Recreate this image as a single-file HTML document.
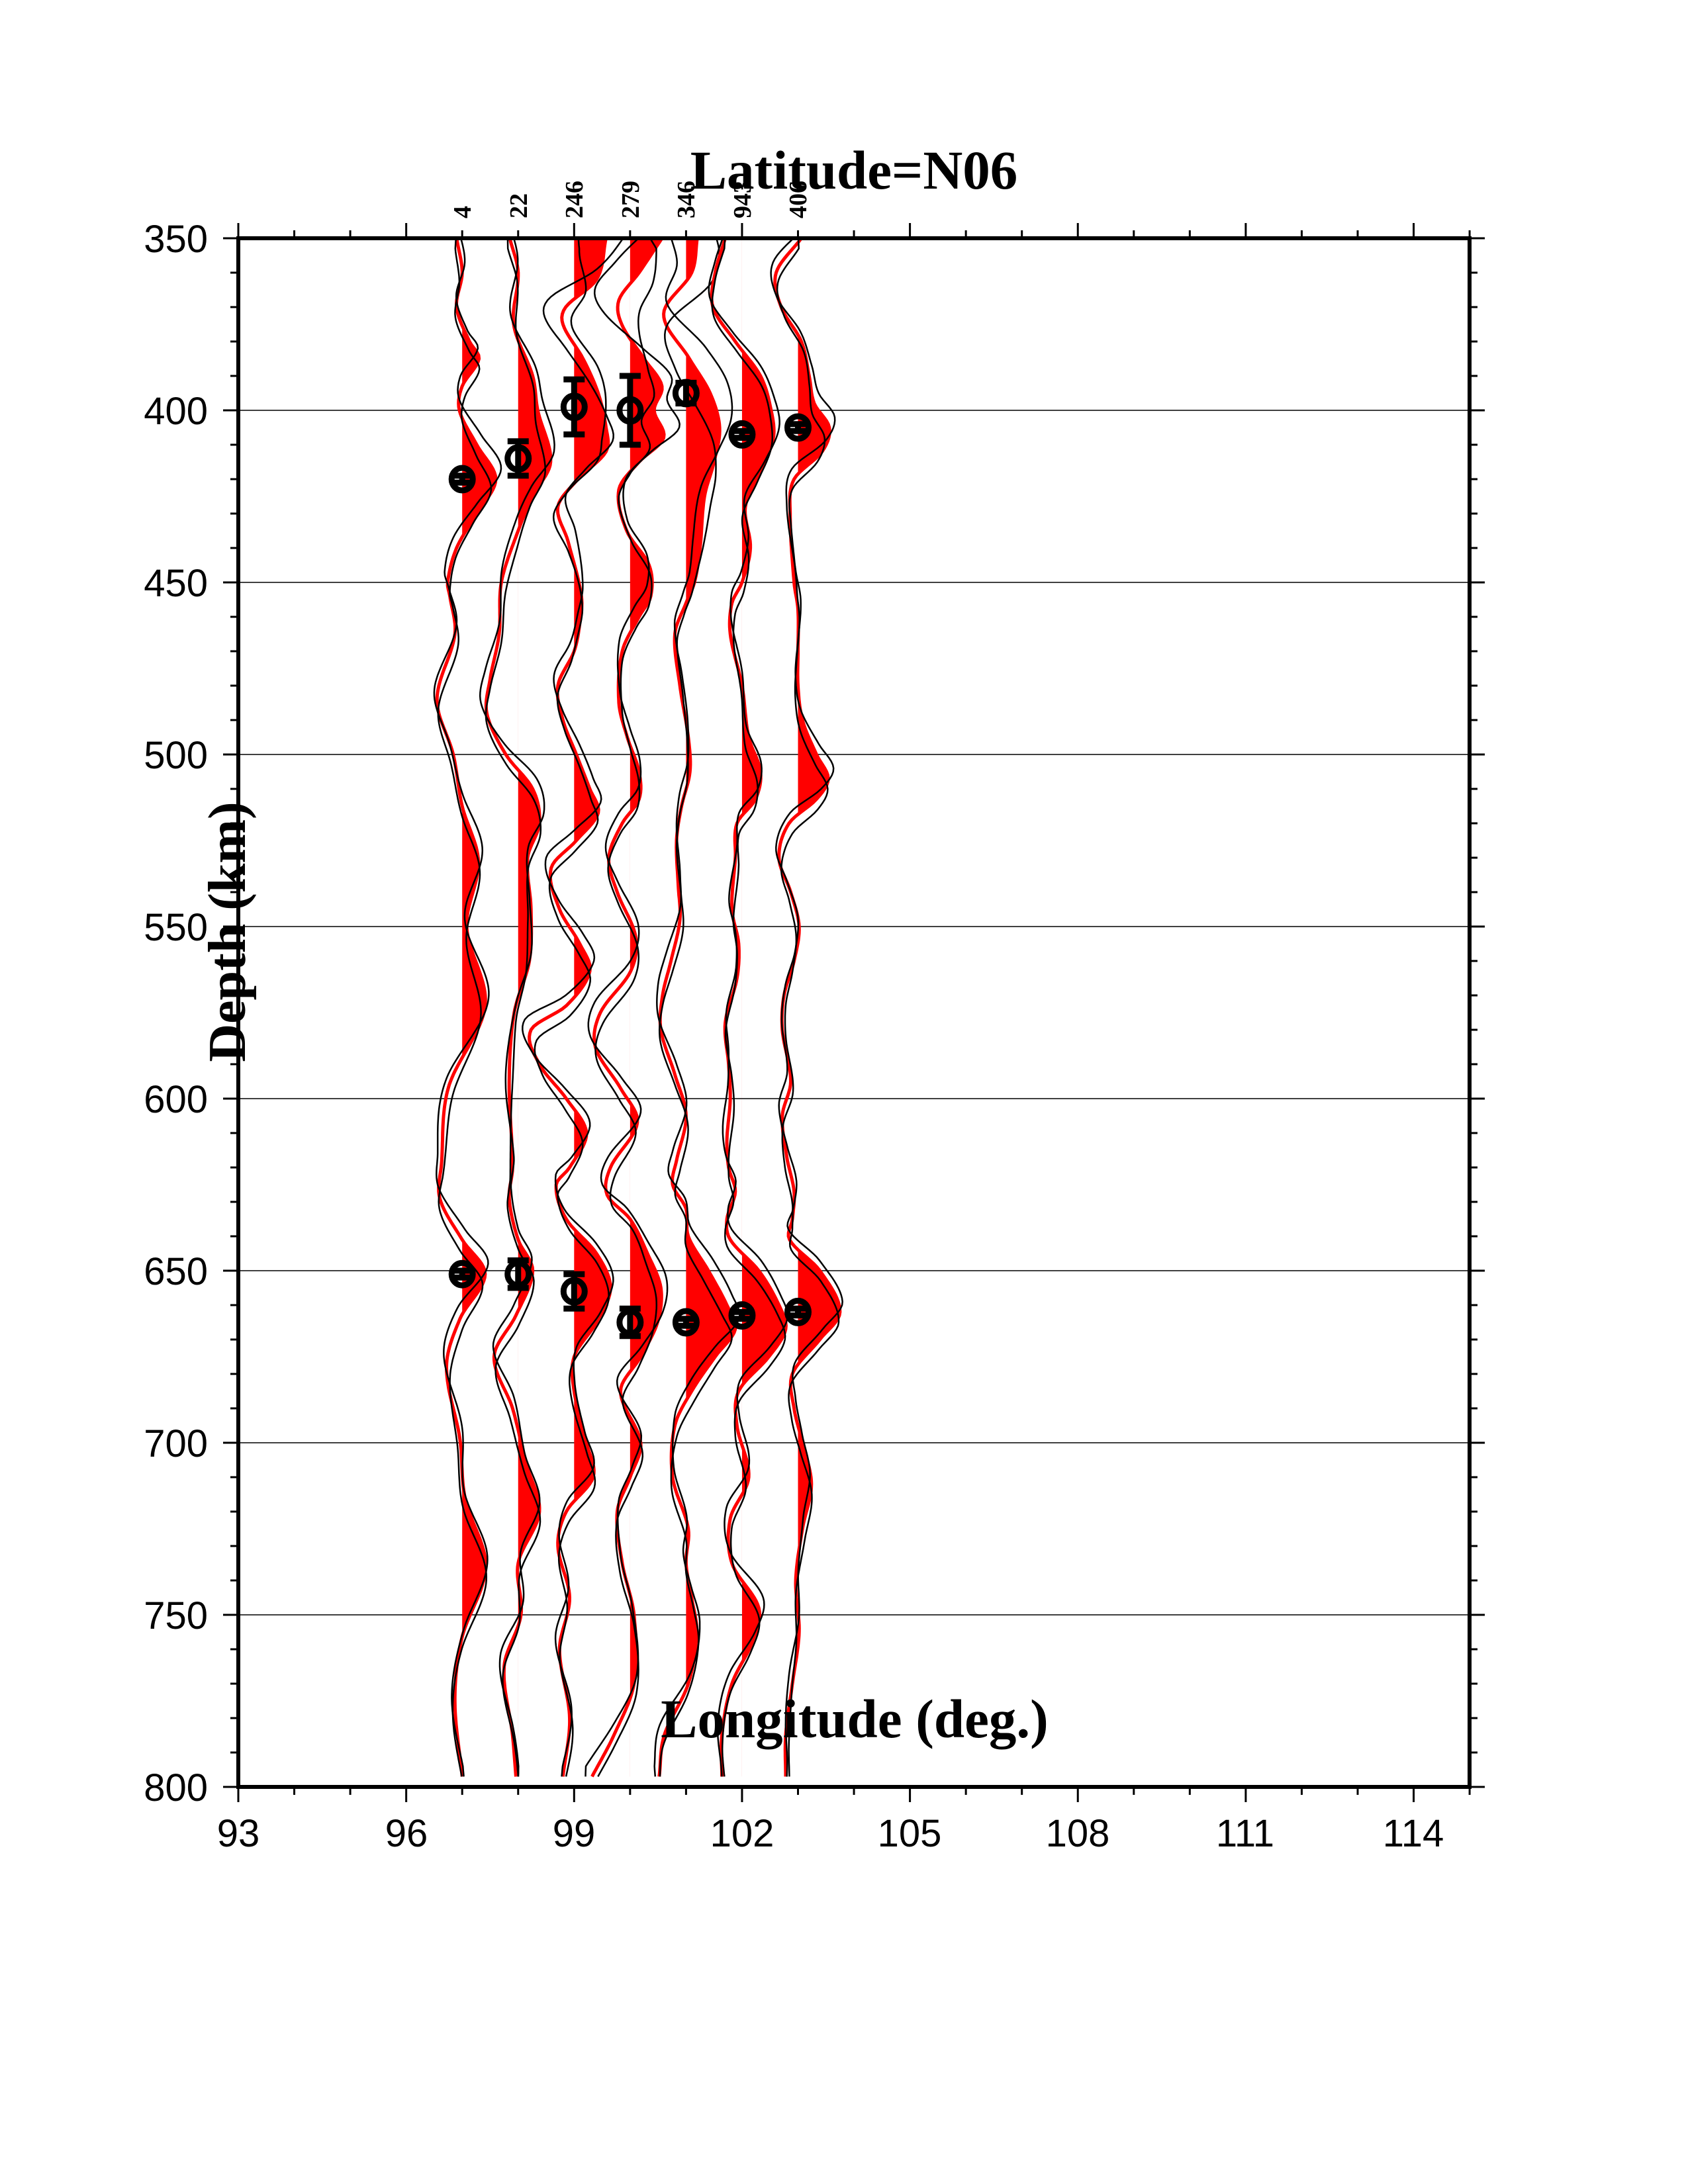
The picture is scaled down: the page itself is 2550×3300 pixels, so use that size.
<!DOCTYPE html>
<html><head><meta charset="utf-8"><style>
html,body{margin:0;padding:0;background:#fff;}
svg{display:block;}
</style></head><body>
<svg id="s" width="2550" height="3300" viewBox="0 0 2550 3300" xmlns="http://www.w3.org/2000/svg">
<rect width="2550" height="3300" fill="#fff"/>
<g id="grid"></g>
<g id="traces"></g>
<g id="marks"></g>
<g id="axes"></g>
<g font-family="Liberation Sans, sans-serif" font-size="58" text-anchor="end">
<text x="314" y="381">350</text><text x="314" y="641">400</text><text x="314" y="901">450</text>
<text x="314" y="1161">500</text><text x="314" y="1421">550</text><text x="314" y="1681">600</text>
<text x="314" y="1941">650</text><text x="314" y="2201">700</text><text x="314" y="2461">750</text>
<text x="314" y="2721">800</text>
</g>
<g font-family="Liberation Sans, sans-serif" font-size="58" text-anchor="middle">
<text x="360" y="2790">93</text><text x="614" y="2790">96</text><text x="867" y="2790">99</text>
<text x="1121" y="2790">102</text><text x="1374" y="2790">105</text><text x="1628" y="2790">108</text>
<text x="1881" y="2790">111</text><text x="2135" y="2790">114</text>
</g>
<g font-family="Liberation Serif, serif" font-weight="bold" font-size="38">
<text transform="translate(711,330) rotate(-90)">4</text>
<text transform="translate(796,330) rotate(-90)">22</text>
<text transform="translate(880,330) rotate(-90)">246</text>
<text transform="translate(965,330) rotate(-90)">279</text>
<text transform="translate(1049,330) rotate(-90)">346</text>
<text transform="translate(1134,330) rotate(-90)">943</text>
<text transform="translate(1218,330) rotate(-90)">406</text>
</g>
<text x="1290" y="285" font-family="Liberation Serif, serif" font-weight="bold" font-size="83" text-anchor="middle">Latitude=N06</text>
<text x="1291" y="2625" font-family="Liberation Serif, serif" font-weight="bold" font-size="83" text-anchor="middle">Longitude (deg.)</text>
<text transform="translate(370,1408) rotate(-90)" font-family="Liberation Serif, serif" font-weight="bold" font-size="80" text-anchor="middle">Depth (km)</text>
</svg>
<script>
(function(){
var NS="http://www.w3.org/2000/svg";
function X(d){return 360+(d-93)*84.55;}
function Y(z){return 360+(z-350)*5.2;}
function el(p,t,a){var e=document.createElementNS(NS,t);for(var k in a)e.setAttribute(k,a[k]);p.appendChild(e);return e;}
var G=document.getElementById('grid'),T=document.getElementById('traces'),M=document.getElementById('marks'),A=document.getElementById('axes');
for(var z=400;z<=750;z+=50)el(G,'line',{x1:360,x2:2220,y1:Y(z),y2:Y(z),stroke:'#000','stroke-width':1.6});
var S={
97:[[350,-0.1],[360,0],[370,-0.1],[380,0.13],[385,0.3],[393,0],[400,-0.05],[410,0.26],[420,0.6],[430,0.26],[440,-0.1],[450,-0.26],[454,-0.22],[465,-0.13],[484,-0.45],[500,-0.16],[515,0],[531,0.29],[550,0.08],[573,0.41],[597,-0.25],[619,-0.37],[629,-0.4],[641,0],[651,0.41],[664,-0.04],[678,-0.28],[699,-0.04],[716,0.05],[736,0.42],[757,-0.01],[775,-0.13],[797,0]],
98:[[350,-0.15],[360,0],[375,-0.08],[390,0.26],[400,0.35],[415,0.58],[425,0.26],[435,0],[450,-0.3],[465,-0.34],[478,-0.5],[488,-0.56],[500,-0.22],[510,0.26],[520,0.38],[530,0.17],[545,0.23],[560,0.2],[575,-0.07],[595,-0.16],[620,-0.1],[629,-0.16],[641,0],[650,0.26],[663,-0.04],[675,-0.43],[690,-0.1],[706,0.14],[720,0.38],[735,0],[750,0.05],[765,-0.25],[785,-0.1],[797,-0.04]],
99:[[350,0.57],[362,0.4],[370,-0.15],[375,-0.2],[385,0.16],[395,0.43],[405,0.57],[412,0.57],[420,0.07],[428,-0.29],[438,-0.11],[454,0.13],[462,0.1],[470,0],[480,-0.29],[490,-0.2],[500,0.04],[510,0.28],[517,0.43],[525,0.04],[533,-0.41],[545,-0.26],[555,0.1],[563,0.28],[573,-0.14],[580,-0.77],[590,-0.62],[600,-0.14],[610,0.22],[620,-0.08],[625,-0.32],[635,-0.14],[645,0.4],[655,0.65],[665,0.4],[675,0],[685,0],[700,0.22],[710,0.34],[720,-0.14],[730,-0.29],[745,-0.08],[760,-0.26],[780,-0.08],[797,-0.2]],
100:[[350,0.57],[360,0.16],[368,-0.2],[375,-0.15],[385,0.25],[393,0.57],[400,0.43],[408,0.6],[415,0.16],[423,-0.2],[435,-0.06],[445,0.34],[454,0.37],[460,0.16],[470,-0.14],[485,-0.2],[495,-0.05],[505,0.16],[513,0.16],[520,-0.14],[530,-0.38],[540,-0.23],[553,0.1],[563,0.01],[575,-0.53],[585,-0.62],[597,-0.17],[607,0.13],[620,-0.35],[628,-0.41],[635,0],[645,0.31],[655,0.55],[665,0.49],[675,0.19],[685,-0.17],[700,0.19],[710,0],[720,-0.23],[735,-0.14],[750,0.07],[770,0.07],[785,-0.29],[797,-0.68]],
101:[[350,0.2],[360,0.1],[372,-0.4],[385,0.06],[395,0.43],[405,0.6],[415,0.5],[425,0.33],[440,0.25],[450,0.15],[456,0],[465,-0.2],[480,-0.11],[495,0.04],[505,0.07],[515,-0.08],[525,-0.17],[538,-0.14],[548,-0.11],[560,-0.27],[570,-0.42],[580,-0.45],[593,-0.2],[605,0],[618,-0.17],[625,-0.24],[632,0],[640,0.04],[650,0.4],[660,0.73],[667,0.88],[675,0.52],[685,0.1],[695,-0.2],[710,-0.24],[725,0.04],[735,0],[745,0.1],[755,0.19],[770,0.04],[785,-0.39],[797,-0.48]],
102:[[350,-0.3],[360,-0.48],[370,-0.52],[380,-0.12],[390,0.33],[400,0.52],[408,0.56],[418,0.33],[428,0.06],[440,0.15],[450,0],[456,-0.18],[465,-0.21],[480,0],[495,0.12],[505,0.33],[513,0.24],[520,-0.09],[530,-0.12],[545,-0.18],[555,-0.06],[565,-0.09],[578,-0.3],[590,-0.24],[600,-0.21],[612,-0.27],[620,-0.24],[627,-0.12],[635,-0.27],[641,-0.21],[650,0.3],[660,0.66],[667,0.78],[675,0.48],[685,-0.06],[695,-0.09],[710,0.12],[722,-0.21],[735,-0.18],[748,0.3],[758,0.18],[770,-0.18],[785,-0.36],[797,-0.36]],
103:[[350,0.06],[360,-0.39],[370,-0.3],[380,0.06],[390,0.2],[398,0.29],[405,0.56],[412,0.43],[420,-0.07],[430,-0.14],[450,-0.07],[458,0],[470,0],[480,0],[490,0.08],[500,0.33],[507,0.54],[513,0.33],[520,-0.16],[530,-0.34],[540,-0.13],[550,0.02],[560,-0.07],[570,-0.25],[580,-0.28],[595,-0.13],[605,-0.28],[617,-0.2],[627,-0.07],[635,-0.1],[641,-0.15],[650,0.39],[662,0.75],[670,0.39],[680,-0.1],[690,-0.07],[700,0.08],[712,0.24],[725,0.08],[740,-0.04],[755,0.02],[770,-0.1],[785,-0.22],[797,-0.22]]
};
function interp(pts,z){
 if(z<=pts[0][0])return pts[0][1];
 var n=pts.length; if(z>=pts[n-1][0])return pts[n-1][1];
 var i=0;while(pts[i+1][0]<z)i++;
 var p0=pts[Math.max(i-1,0)],p1=pts[i],p2=pts[i+1],p3=pts[Math.min(i+2,n-1)];
 var h=p2[0]-p1[0],t=(z-p1[0])/h;
 var m1=(p2[1]-p0[1])/(p2[0]-p0[0]||1)*h, m2=(p3[1]-p1[1])/(p3[0]-p1[0]||1)*h;
 var t2=t*t,t3=t2*t;
 return (2*t3-3*t2+1)*p1[1]+(t3-2*t2+t)*m1+(-2*t3+3*t2)*p2[1]+(t3-t2)*m2;
}
var k=0;
for(var st=97;st<=103;st++){
 var pts=S[st],bx=X(st);
 var red=[],b1=[],b2=[];
 var ph=k*1.3;
 for(var z=350;z<=797;z+=1){
  var v=interp(pts,z);
  red.push([bx+v*84.55,Y(z)]);
  var w1=interp(pts,Math.min(797,Math.max(350,z+3)))*1.1+0.05*Math.sin(z/9+ph);
  var w2=interp(pts,Math.min(797,Math.max(350,z-3)))*0.92-0.05*Math.sin(z/11+ph);
  if((st==99||st==100||st==101)&&z<470){var f=(470-z)/120;w1+=0.5*f*Math.sin(z/14+ph);w2-=0.45*f*Math.sin(z/12+ph+1);}
  b1.push([bx+w1*84.55,Y(z)]);b2.push([bx+w2*84.55,Y(z)]);
 }
 var d='';
 for(var i=0;i<red.length;i++){
  var x=Math.max(red[i][0],bx);
  d+=(i?'L':'M')+x.toFixed(1)+','+red[i][1].toFixed(1);
 }
 d+='L'+bx+','+Y(797)+'L'+bx+','+Y(350)+'Z';
 el(T,'path',{d:d,fill:'#ff0000',stroke:'none'});
 function pl(a){return a.map(function(p){return p[0].toFixed(1)+','+p[1].toFixed(1);}).join(' ');}
 el(T,'polyline',{points:pl(red),fill:'none',stroke:'#ff0000','stroke-width':5});
 el(T,'polyline',{points:pl(b1),fill:'none',stroke:'#000','stroke-width':2.5});
 el(T,'polyline',{points:pl(b2),fill:'none',stroke:'#000','stroke-width':2.5});
 k++;
}
var C=[[97,420,1],[98,414,5],[99,399,8],[100,400,10],[101,395,3],[102,407,1],[103,405,1],
 [97,651,1],[98,651,4],[99,656,5],[100,665,4],[101,665,1],[102,663,1],[103,662,1]];
C.forEach(function(c){
 var x=X(c[0]),y=Y(c[1]),e=c[2]*5.2;
 el(M,'line',{x1:x,x2:x,y1:y-e,y2:y+e,stroke:'#000','stroke-width':9});
 el(M,'line',{x1:x-16,x2:x+16,y1:y-e,y2:y-e,stroke:'#000','stroke-width':9});
 el(M,'line',{x1:x-16,x2:x+16,y1:y+e,y2:y+e,stroke:'#000','stroke-width':9});
 el(M,'ellipse',{cx:x,cy:y,rx:16,ry:17,fill:'none',stroke:'#000','stroke-width':9});
});
el(A,'rect',{x:360,y:360,width:1860,height:2340,fill:'none',stroke:'#000','stroke-width':6});
for(var d=93;d<=115;d++){
 var x=X(d),L=((d-93)%3==0)?23:12;
 el(A,'line',{x1:x,x2:x,y1:2700,y2:2700+L,stroke:'#000','stroke-width':3});
 el(A,'line',{x1:x,x2:x,y1:360,y2:360-L,stroke:'#000','stroke-width':3});
}
for(var z=350;z<=800;z+=10){
 var y=Y(z),L=(z%50==0)?23:12;
 el(A,'line',{x1:360,x2:360-L,y1:y,y2:y,stroke:'#000','stroke-width':3});
 el(A,'line',{x1:2220,x2:2220+L,y1:y,y2:y,stroke:'#000','stroke-width':3});
}
})();
</script>
</body></html>
